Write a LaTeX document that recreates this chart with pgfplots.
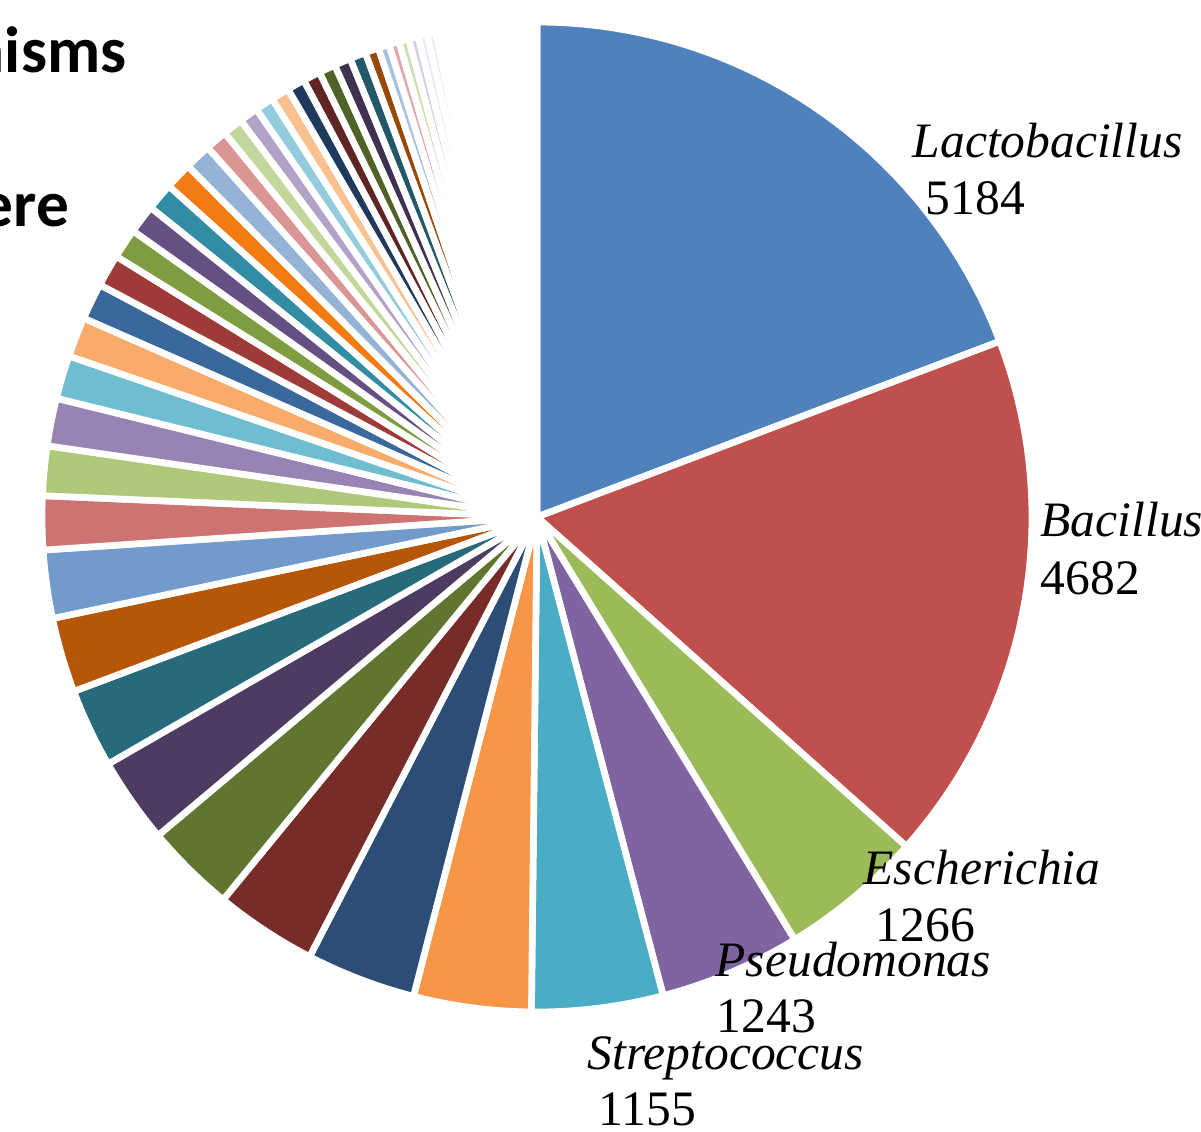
\documentclass[border=0pt]{standalone}
\usepackage{pgfplots}
\usepackage{pgfplotstable}
\pgfplotsset{compat=1.18}
\usepackage{fontspec}
\setmainfont{Liberation Serif}
\newfontfamily\headfont{Carlito}

% Office palette, then its darker and lighter variants
\definecolor{c01}{HTML}{4F81BD}
\definecolor{c02}{HTML}{C0504D}
\definecolor{c03}{HTML}{9BBB59}
\definecolor{c04}{HTML}{8064A2}
\definecolor{c05}{HTML}{4BACC6}
\definecolor{c06}{HTML}{F79646}
\definecolor{c07}{HTML}{2C4D75}
\definecolor{c08}{HTML}{772C2A}
\definecolor{c09}{HTML}{5F7530}
\definecolor{c10}{HTML}{4D3B62}
\definecolor{c11}{HTML}{276A7C}
\definecolor{c12}{HTML}{B65708}
\definecolor{c13}{HTML}{729ACA}
\definecolor{c14}{HTML}{CD7371}
\definecolor{c15}{HTML}{AFC97A}
\definecolor{c16}{HTML}{9983B5}
\definecolor{c17}{HTML}{6FBDD1}
\definecolor{c18}{HTML}{F9AB6B}
\definecolor{c19}{HTML}{3A679C}
\definecolor{c20}{HTML}{9E3B38}
\definecolor{c21}{HTML}{7E9D40}
\definecolor{c22}{HTML}{664F83}
\definecolor{c23}{HTML}{328DA4}
\definecolor{c24}{HTML}{F27B12}
\definecolor{c25}{HTML}{95B3D7}
\definecolor{c26}{HTML}{D99694}
\definecolor{c27}{HTML}{C3D69B}
\definecolor{c28}{HTML}{B3A2C7}
\definecolor{c29}{HTML}{93CDDD}
\definecolor{c30}{HTML}{FAC090}
\definecolor{c31}{HTML}{203A5E}
\definecolor{c32}{HTML}{602423}
\definecolor{c33}{HTML}{4F6228}
\definecolor{c34}{HTML}{3F3151}
\definecolor{c35}{HTML}{215968}
\definecolor{c36}{HTML}{984807}
\definecolor{c37}{HTML}{A5C0E0}
\definecolor{c38}{HTML}{E0A8A8}
\definecolor{c39}{HTML}{CFDFB0}
\definecolor{c40}{HTML}{D5CCE2}
\definecolor{c41}{HTML}{E2ECF6}
\definecolor{c42}{HTML}{F4E6E6}
\definecolor{c43}{HTML}{FFFFFF}

% reads per genus, largest first, clockwise from twelve o'clock
\pgfplotstableread[col sep=comma]{
genus,reads,shade
Lactobacillus,5184,c01
Bacillus,4682,c02
Escherichia,1266,c03
Pseudomonas,1243,c04
Streptococcus,1155,c05
genus06,1034,c06
genus07,966,c07
genus08,899,c08
genus09,794,c09
genus10,757,c10
genus11,697,c11
genus12,659,c12
genus13,599,c13
genus14,472,c14
genus15,435,c15
genus16,420,c16
genus17,382,c17
genus18,352,c18
genus19,322,c19
genus20,285,c20
genus21,264,c21
genus22,254,c22
genus23,244,c23
genus24,239,c24
genus25,235,c25
genus26,194,c26
genus27,177,c27
genus28,167,c28
genus29,163,c29
genus30,161,c30
genus31,157,c31
genus32,152,c32
genus33,147,c33
genus34,145,c34
genus35,141,c35
genus36,120,c36
genus37,97,c37
genus38,90,c38
genus39,88,c39
genus40,84,c40
genus41,82,c41
genus42,75,c42
others,884,c43
}\genera

% pie centre and radius in axis units (1 unit = 0.1 mm)
\def\cx{537}
\def\cy{614}
\def\rad{495}

\newcommand\pieslice[3]{%
  \addplot[fill=#1, draw=white, line width=1.9pt, line join=round,
    domain=#2:#3, samples=40, forget plot]
    ({\cx+\rad*sin(x)}, {\cy+\rad*cos(x)}) -- (axis cs:\cx,\cy) -- cycle;%
}

% total and start/end angle of every slice
\pgfplotstablegetrowsof{\genera}
\edef\lastrow{\the\numexpr\pgfplotsretval-1\relax}
\def\total{0}
\pgfplotsforeachungrouped \r in {0,...,\lastrow}{%
  \pgfplotstablegetelem{\r}{reads}\of\genera
  \edef\total{\the\numexpr\total+\pgfplotsretval\relax}%
}
\def\acc{0}
\def\slicelist{}
\pgfplotsforeachungrouped \r in {0,...,\lastrow}{%
  \pgfplotstablegetelem{\r}{reads}\of\genera
  \edef\v{\pgfplotsretval}%
  \pgfplotstablegetelem{\r}{shade}\of\genera
  \edef\c{\pgfplotsretval}%
  \edef\a{\fpeval{round(\acc*360/\total,4)}}%
  \edef\acc{\the\numexpr\acc+\v\relax}%
  \edef\b{\fpeval{round(\acc*360/\total,4)}}%
  \edef\slicelist{\unexpanded\expandafter{\slicelist}\noexpand\pieslice{\c}{\a}{\b}}%
}

\begin{document}
\begin{tikzpicture}
\useasboundingbox (0,0) rectangle (12.01cm,11.31cm);
\begin{axis}[
  at={(0,0)}, anchor=south west,
  width=12.01cm, height=11.31cm, scale only axis,
  xmin=0, xmax=1201, ymin=0, ymax=1131,
  hide axis, clip=false,
]
\slicelist

% genus labels with their read counts
\begin{scope}[every node/.style={anchor=base west, inner sep=0pt,
    font=\fontsize{14.1}{16}\selectfont}]
\node at (axis cs:912,973) {\textit{Lactobacillus}};
\node at (axis cs:925,916) {5184};
\node at (axis cs:1040,594) {\textit{Bacillus}};
\node at (axis cs:1040,537) {4682};
\node at (axis cs:863,247) {\textit{Escherichia}};
\node at (axis cs:875,190) {1266};
\node at (axis cs:715,155) {\textit{Pseudomonas}};
\node at (axis cs:716,99) {1243};
\node at (axis cs:587,62) {\textit{Streptococcus}};
\node at (axis cs:598,6) {1155};
\end{scope}

% heading text
\node[anchor=base east, inner sep=0pt, font=\headfont\bfseries\fontsize{18.6}{20}\selectfont]
  at (axis cs:127,1058) {nisms};
\node[anchor=base east, inner sep=0pt, font=\headfont\bfseries\fontsize{18.6}{20}\selectfont]
  at (axis cs:70,904) {ere};
\end{axis}
\end{tikzpicture}
\end{document}
